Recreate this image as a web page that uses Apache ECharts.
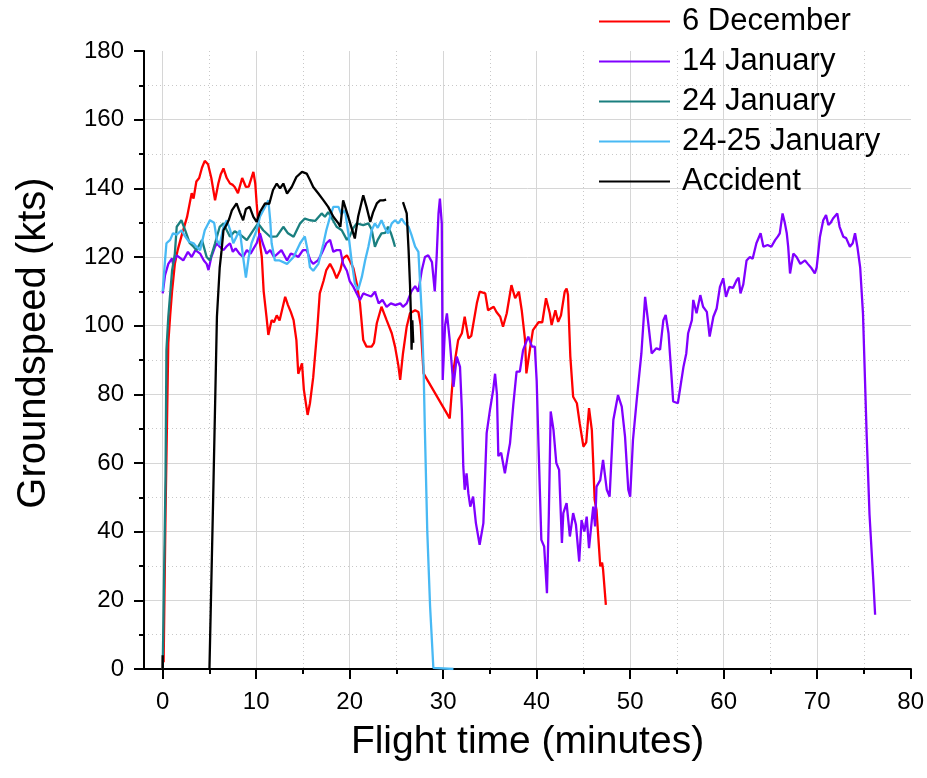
<!DOCTYPE html>
<html><head><meta charset="utf-8">
<script src="https://cdn.jsdelivr.net/npm/echarts@6/dist/echarts.min.js"></script>
<style>html,body{margin:0;padding:0;background:#fff}#c{width:927px;height:778px}</style>
</head><body><div id="c"></div>
<script>
const seriesNames = ['6 December', '14 January', '24 January', '24-25 January', 'Accident'];
const seriesColors = ['#ff0000', '#8000ff', '#1a7f7f', '#48b9f4', '#000000'];

// [flight time (min), groundspeed (kts)]
const dec6 = [[0,0],[0.05,4.5],[0.1,2],[0.3,45],[0.6,95],[0.8,103],[1.0,110],[1.3,118],[1.6,122],[2.0,126],[2.6,131.6],[3.1,138.6],[3.3,137],[3.6,142],[3.9,143],[4.2,146],[4.5,148],[4.85,147],[5.2,143],[5.6,136.5],[5.95,141.4],[6.2,144],[6.5,145.8],[6.85,143],[7.2,141.4],[7.5,141],[7.7,140.4],[8.05,138.6],[8.5,143],[8.9,140.4],[9.2,140.5],[9.7,144.8],[9.9,141.4],[10.05,135.6],[10.4,124],[10.6,120],[10.8,110],[11.1,102.6],[11.3,97.3],[11.65,101.6],[11.9,101],[12.2,103],[12.5,101.5],[12.7,101],[13.1,108.4],[13.4,106],[13.7,104],[14.0,101.6],[14.3,95.8],[14.5,86],[14.9,89],[15.1,81.3],[15.5,74],[15.75,77.4],[16.1,85],[16.5,97.8],[16.8,109.4],[17.2,113],[17.5,116.2],[17.9,118],[18.25,116.2],[18.6,113.8],[19.0,116.2],[19.3,119.6],[19.7,120.5],[20.0,119],[20.4,116.7],[20.75,112.3],[21.1,106.5],[21.45,95.8],[21.8,93.9],[22.35,93.9],[22.6,95],[22.9,100.7],[23.4,105.5],[23.95,101.6],[24.5,97.8],[24.85,93.9],[25.2,88.5],[25.4,84.2],[25.7,91.9],[26.1,99.7],[26.45,103.6],[27.0,104.5],[27.35,104],[27.6,100],[27.9,86.1],[30.7,73],[31.1,87],[31.6,95.8],[32.0,97.8],[32.3,102.6],[32.7,96.3],[33.0,97],[33.6,106.5],[33.9,109.9],[34.5,109.4],[34.8,104.5],[35.4,105.5],[35.7,104],[36.1,102.6],[36.4,99.7],[36.8,103.6],[37.3,111.8],[37.7,108],[38.1,109.9],[38.4,104.5],[38.75,96],[38.9,86.1],[39.3,93.5],[39.6,98.7],[40.2,101],[40.6,101],[41.0,108],[41.4,103.6],[41.6,100.2],[42.0,104.5],[42.3,101.1],[42.6,103],[43.0,109.9],[43.2,110.8],[43.35,109],[43.6,91],[43.9,79.3],[44.3,77.4],[44.6,71.6],[45.0,64.8],[45.3,66],[45.6,76],[45.9,69.6],[46.05,60],[46.2,49.3],[46.4,46.3],[46.8,29.9],[47.0,31],[47.1,29],[47.4,18.7]];

const jan14 = [[0,109.4],[0.25,114.7],[0.6,118],[1.0,119.6],[1.1,118],[1.5,120.5],[1.7,121],[2.2,119],[2.7,121.5],[3.1,120],[3.5,122],[4.0,121],[4.4,119],[4.7,118],[4.9,116.2],[5.2,120],[5.6,123],[5.8,124],[6.1,123],[6.5,122],[6.8,123],[7.2,124],[7.5,121.5],[7.8,122.5],[8.2,121],[8.6,120],[9.0,122],[9.4,121],[10.05,124],[10.4,126.9],[10.7,124],[11.1,121],[11.5,122],[11.9,120],[12.3,121],[12.7,122],[13.3,119],[13.7,121],[14.2,120.5],[14.5,120],[15.0,122],[15.4,122],[15.8,119],[16.1,118],[16.6,119],[17.0,121],[17.5,124],[17.9,125],[18.25,121.5],[18.6,122],[19.0,122],[19.3,118],[19.7,116],[20.0,113],[20.4,111.3],[20.75,109.4],[21.1,107.5],[21.45,109.4],[21.8,109],[22.3,108.5],[22.7,109.9],[23.1,106.5],[23.5,107.5],[23.95,105.5],[24.4,106.5],[24.9,106],[25.4,106.5],[25.7,105.5],[26.1,106.5],[26.6,110],[27.0,111.5],[27.35,109.9],[27.7,116],[28.05,120],[28.4,120.5],[28.8,118.5],[29.1,110],[29.3,120],[29.5,132.7],[29.65,137],[29.85,129.8],[29.95,84.2],[30.2,100],[30.4,103.6],[30.7,95.8],[31.1,82.2],[31.45,91],[31.8,88],[32.0,75.4],[32.15,59],[32.3,52.2],[32.5,57],[32.7,51],[32.9,47.3],[33.2,50.2],[33.5,42.5],[33.9,36.2],[34.3,42.5],[34.65,68.7],[35.0,75.4],[35.35,81.3],[35.55,86],[35.75,80],[35.9,62],[36.2,63],[36.6,57],[36.9,62],[37.15,65.8],[37.5,77],[37.85,86.6],[38.2,86.6],[38.55,92.9],[39.1,96.8],[39.5,93.9],[39.8,93.9],[40.0,84],[40.2,64.8],[40.5,37.6],[40.8,35.7],[41.1,22.1],[41.3,45],[41.5,75],[41.8,69.6],[42.1,60],[42.4,58],[42.7,36.7],[42.85,45.4],[43.2,48.3],[43.55,38.6],[43.9,45.4],[44.2,42],[44.55,31.3],[44.8,43.4],[45.1,40],[45.35,44.4],[45.6,35.2],[45.9,43.4],[46.05,47.3],[46.25,41.5],[46.4,53.1],[46.8,55],[47.1,60.9],[47.5,52.2],[47.8,50.2],[48.2,72.5],[48.7,79.8],[49.1,76.4],[49.45,67.7],[49.8,52.2],[50.0,50.2],[50.3,66.7],[50.7,78.3],[51.2,91.9],[51.6,108.4],[51.75,108.9],[51.9,101.6],[52.3,91.9],[52.8,93.4],[53.2,93],[53.55,101.6],[53.8,103.1],[54.1,97.8],[54.4,86.1],[54.6,77.9],[55.1,77.4],[55.7,88],[56.0,91.9],[56.2,97.8],[56.6,101.6],[56.75,107.5],[57.1,103.6],[57.5,108.9],[57.8,105.5],[58.2,104],[58.5,96.8],[58.9,102.6],[59.25,105],[59.6,111.3],[59.95,113.8],[60.25,108.4],[60.6,111.3],[61.0,111],[61.4,113.3],[61.6,114],[61.8,109.4],[62.1,112],[62.45,119],[62.8,120],[63.1,119.5],[63.5,124],[63.95,126.9],[64.25,123],[64.7,123.5],[65.1,123],[65.5,124.9],[65.8,126],[66.0,126.9],[66.3,132.7],[66.55,129.8],[66.75,126.9],[66.9,123],[67.1,115.2],[67.45,121],[67.8,120],[68.2,118],[68.7,119],[69.0,118],[69.4,116.7],[69.75,115.2],[69.95,117],[70.3,125.9],[70.65,130.7],[70.95,132.2],[71.2,129.3],[71.45,130],[71.7,131.2],[72.15,132.7],[72.4,128.8],[72.8,125.9],[73.1,125.5],[73.5,123],[73.8,124],[74.05,126.9],[74.3,123],[74.6,117],[74.9,103.6],[75.3,67.7],[75.6,45],[76.0,26],[76.2,15.8]];

const jan24 = [[0,0],[0.3,55],[0.4,93],[0.6,102.6],[1.0,116],[1.3,121],[1.5,128.8],[2.0,130.7],[2.4,127.8],[2.9,124],[3.3,123],[3.6,122],[4.2,124.9],[4.7,120],[5.05,119],[5.6,124],[6.1,128.8],[6.5,129.8],[6.85,127.8],[7.2,125.9],[7.7,127.5],[8.3,126.5],[9.0,124.9],[9.7,127.8],[10.2,129.8],[10.75,127.8],[11.5,125.9],[12.2,126],[12.9,128.8],[13.4,126.9],[14.0,125.9],[14.7,129.8],[15.2,131.2],[15.75,130.7],[16.3,130.5],[17.0,132.7],[17.35,131.7],[17.7,133.1],[18.1,131.2],[18.6,128.8],[19.15,127.8],[19.7,125],[20.0,126],[20.4,128.5],[20.75,129.8],[21.45,129.3],[22.0,129.8],[22.35,128],[22.7,123],[23.0,125],[23.4,126.9],[23.8,127],[24.1,128.8],[24.4,127],[24.65,124.9],[24.85,123]];

const jan2425 = [[0,110],[0.25,119],[0.4,124],[0.8,125],[1.1,126.9],[1.5,126.5],[2.0,127.8],[2.4,126],[2.8,124.5],[3.3,124],[3.6,123],[4.0,122],[4.5,127.8],[5.05,130.7],[5.5,130],[5.8,124.9],[6.1,123.5],[6.5,128.8],[6.85,130.7],[7.2,128],[7.55,124],[7.9,126],[8.25,127.8],[8.6,120],[8.9,114],[9.2,120],[9.5,124],[10.05,127.8],[10.4,131.7],[10.95,134.6],[11.3,136.5],[11.5,130.7],[11.65,124],[12.0,119],[12.5,119],[13.3,118],[14.0,120],[14.7,124],[15.2,126],[15.5,122],[15.75,117],[16.1,116],[16.65,118],[17.2,124],[17.5,127.8],[17.9,131.7],[18.25,134.6],[18.8,134.6],[19.1,132.5],[19.5,133.6],[19.85,127],[20.2,119],[20.55,112.3],[20.9,110.4],[21.3,114.2],[21.65,119],[22.0,123],[22.35,127.8],[22.7,129.8],[23.0,128.5],[23.4,130.7],[23.75,128.5],[24.1,126.9],[24.5,129.8],[24.85,130.7],[25.2,129.8],[25.55,131.2],[25.9,129.8],[26.3,128.8],[26.6,126.5],[27.0,123],[27.35,121.5],[27.5,114],[27.7,104],[27.9,88],[28.05,68.7],[28.3,40],[28.6,18.2],[28.95,0.3],[31.1,0]];

const accident = [[0,0],[0,4],[0.02,'-'],[5,0],[5.4,50],[5.8,102.6],[6.1,117],[6.3,122],[6.5,127.8],[6.85,129.5],[7.1,131],[7.4,133.6],[7.9,135.6],[8.25,133],[8.6,130.7],[8.9,134],[9.3,134.6],[9.7,131.7],[10.05,130.2],[10.4,133.1],[10.95,135.6],[11.4,135.5],[11.8,139.5],[12.2,141.4],[12.55,140],[12.9,141.4],[13.3,138.5],[13.8,140.4],[14.3,143.3],[14.9,144.8],[15.4,144.3],[15.75,142.4],[16.1,140.4],[16.65,138.5],[17.2,136.5],[17.7,134.6],[18.25,131.7],[18.8,129.8],[19.0,128.8],[19.3,136.5],[19.5,136],[19.85,131.7],[20.2,128.5],[20.55,125.4],[20.9,131.7],[21.45,138],[21.8,134.6],[22.2,130.2],[22.5,133],[22.9,135.6],[23.25,136.5],[23.6,136.5],[23.9,136.7],[24.8,'-'],[25.7,136],[26.1,132.7],[26.3,122],[26.45,112],[26.55,103],[26.62,93],[26.7,101.6],[26.8,95]];

const allData = [dec6, jan14, jan24, jan2425, accident];

const FONT = '"Liberation Sans", Arial, sans-serif';
const chart = echarts.init(document.getElementById('c'), null, {renderer: 'canvas'});

chart.setOption({
  animation: false,
  backgroundColor: '#ffffff',
  textStyle: {fontFamily: FONT, color: '#000'},
  grid: [
    {left: 144, right: 16, top: 51, bottom: 109},
    {left: 162.7, right: 16, top: 51, bottom: 109}
  ],
  legend: {
    orient: 'vertical', left: 599, top: 6, padding: 0,
    icon: 'rect', itemWidth: 71, itemHeight: 2, itemGap: 9,
    textStyle: {fontSize: 31, fontFamily: FONT, color: '#000', padding: [0, 0, 0, 7]},
    data: seriesNames
  },
  xAxis: [
    {
      gridIndex: 0, type: 'value', min: -2, max: 80,
      name: 'Flight time (minutes)', nameLocation: 'middle', nameGap: 54,
      nameTextStyle: {fontSize: 39, fontFamily: FONT, color: '#000'},
      axisLine: {show: true, onZero: false, lineStyle: {color: '#000', width: 2}},
      axisTick: {show: false}, axisLabel: {show: false},
      splitLine: {show: false}
    },
    {
      gridIndex: 1, type: 'value', min: 0, max: 80, interval: 10,
      axisLine: {show: false, onZero: false},
      axisTick: {show: true, inside: false, length: 10, lineStyle: {color: '#000', width: 2}},
      minorTick: {show: true, splitNumber: 2, length: 5, lineStyle: {color: '#000', width: 2}},
      axisLabel: {fontSize: 24, fontFamily: FONT, color: '#000', margin: 21},
      splitLine: {show: true, showMaxLine: false, lineStyle: {color: '#d6d6d6', width: 1}},
      minorSplitLine: {show: true, lineStyle: {color: '#c8c8c8', width: 1, type: [1, 3]}}
    }
  ],
  yAxis: [
    {
      gridIndex: 0, type: 'value', min: 0, max: 180, interval: 20,
      name: 'Groundspeed (kts)', nameLocation: 'middle', nameGap: 90,
      nameTextStyle: {fontSize: 40, fontFamily: FONT, color: '#000', padding: [0, 0, 0, 34]},
      axisLine: {show: true, onZero: false, lineStyle: {color: '#000', width: 2}},
      axisTick: {show: true, inside: false, length: 10, lineStyle: {color: '#000', width: 2}},
      minorTick: {show: true, splitNumber: 2, length: 5, lineStyle: {color: '#000', width: 2}},
      axisLabel: {fontSize: 24, fontFamily: FONT, color: '#000', margin: 20},
      splitLine: {show: true, showMinLine: false, showMaxLine: false, lineStyle: {color: '#d6d6d6', width: 1}},
      minorSplitLine: {show: true, lineStyle: {color: '#c8c8c8', width: 1, type: [1, 3]}}
    },
    {
      gridIndex: 1, type: 'value', min: 0, max: 180, show: false,
      splitLine: {show: false}
    }
  ],
  series: seriesNames.map((n, i) => ({
    name: n, type: 'line', xAxisIndex: 1, yAxisIndex: 1,
    data: allData[i], symbol: 'none', showSymbol: false,
    connectNulls: false, smooth: false,
    lineStyle: {color: seriesColors[i], width: 2.3},
    itemStyle: {color: seriesColors[i]},
    z: 2 + i
  }))
});
</script>
</body></html>
